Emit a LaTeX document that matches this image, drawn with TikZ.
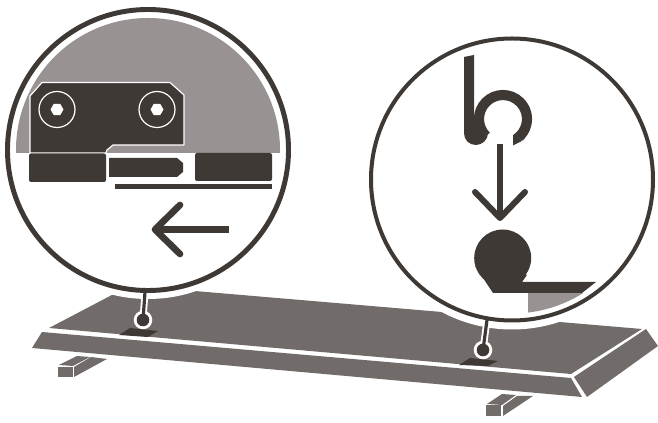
\documentclass[tikz,border=0pt]{standalone}
\definecolor{darkc}{HTML}{3E3935}
\definecolor{midc}{HTML}{989392}
\definecolor{platc}{HTML}{716C6A}
\tikzset{
  ink/.style={fill=darkc,draw=none},
  plat/.style={fill=platc,draw=none},
  arrowline/.style={draw=darkc,line width=5pt,line cap=round,line join=round},
  whiteedge/.style={draw=white,line width=0.9pt,line join=round},
}
\begin{document}
\begin{tikzpicture}[x=0.75pt,y=-0.75pt]
\useasboundingbox (0,0) rectangle (658,423);
% feet
\path[plat] (74,377)--(74,367)--(91,357)--(107,359)--cycle;
\path[plat] (59,365)--(77,356)--(90,357)--(73,366)--cycle;
\path[plat] (58,367)--(73,367)--(73,377)--(58,377)--cycle;
\path[plat] (503,416)--(503,406)--(517,396)--(533,396)--cycle;
\path[plat] (487,404)--(502,394)--(516,395)--(502,405)--cycle;
\path[plat] (486,405)--(501,405)--(501,416)--(486,416)--cycle;
% platform
\path[plat] (49,328)--(130,285.5)--(642,329)--(571,374)--cycle;
\path[plat] (42,332)--(571,378)--(582,397)--(32,348)--cycle;
\path[plat] (574,377)--(646,329)--(658,346)--(587,397)--cycle;
% halos
\path[fill=white] (148,150) circle (149);
\path[fill=white] (512,179.5) circle (150);
% mounting squares
\path[ink] (119,335)--(130,328)--(158,331)--(148,337)--cycle;
\path[ink] (459,365)--(470,358)--(498,361)--(488,366)--cycle;
% pins
\draw[white,line width=5.2pt] (145,292)--(143,320);
\path[fill=white] (143,320) circle (9.3);
\draw[darkc,line width=2.4pt] (145,292)--(143,320);
\path[ink] (143,320) circle (6.3);
\draw[white,line width=5.2pt] (487,320)--(483,350);
\path[fill=white] (483,350) circle (9.3);
\draw[darkc,line width=2.4pt] (487,320)--(483,350);
\path[ink] (483,350) circle (6.3);
% left detail
\begin{scope}
\clip (0,0) rectangle (658,153);
\path[fill=midc] (148,150) circle (132);
\end{scope}
\path[ink,whiteedge] (30,96)--(42,82.5)--(170,82.5)--(184,95)--(184,145)--(113,145)--(107,150)--(106,153)--(30,153)--cycle;
\foreach \cx in {57,157}{
  \draw[white,line width=0.9pt] (\cx,109.5) circle (18);
  \path[fill=white] (\cx+6.5,109.5)--(\cx+3.2,115.2)--(\cx-3.2,115.2)--(\cx-6.5,109.5)--(\cx-3.2,103.8)--(\cx+3.2,103.8)--cycle;
}
\path[ink,rounded corners=1.5pt] (29,153.5)--(106,153.5)--(106,182)--(29,182)--cycle;
\path[ink] (109,158)--(177,158)--(183,163)--(183,172)--(177,177)--(109,177)--cycle;
\path[ink,rounded corners=1.5pt] (195,153)--(272,153)--(272,181)--(195,181)--cycle;
\path[ink] (115,184)--(272,184)--(272,189)--(115,189)--cycle;
\draw[darkc,line width=5.2pt] (229,229.5)--(158,229.5);
\draw[arrowline] (180,205)--(155,229.5)--(180,254);
\draw[darkc,line width=3.7pt] (148,150) circle (140.5);
% right detail
\begin{scope}
\clip (512,179.5) circle (134);
\path[fill=midc] (528,293)--(600,293)--(600,330)--(528,330)--cycle;
\end{scope}
\path[ink] (464,57)--(474,55)--(474,118)--(484,127)--(488,133)
  .. controls (488,140) and (482,145) .. (476,145)
  .. controls (469,145) and (464,140) .. (464,133)--cycle;
\draw[darkc,line width=7.6pt] (486,136) arc[start angle=135,end angle=410,radius=24];
\path[ink] (515.2,133.6)--(521.8,141)--(513,145.5)--(513,135)--cycle;
\draw[darkc,line width=4.5pt] (500,144)--(500,216);
\draw[arrowline,line width=4.5pt] (475,192)--(500,218)--(525,192);
\path[ink] (502.7,258) circle (28.5);
\path[ink] (475,266)--(493,293)--(582,293)--(596,282)--(522,282)--(527,275)--cycle;
\draw[darkc,line width=3pt] (512,179.5) circle (141);
\end{tikzpicture}
\end{document}
